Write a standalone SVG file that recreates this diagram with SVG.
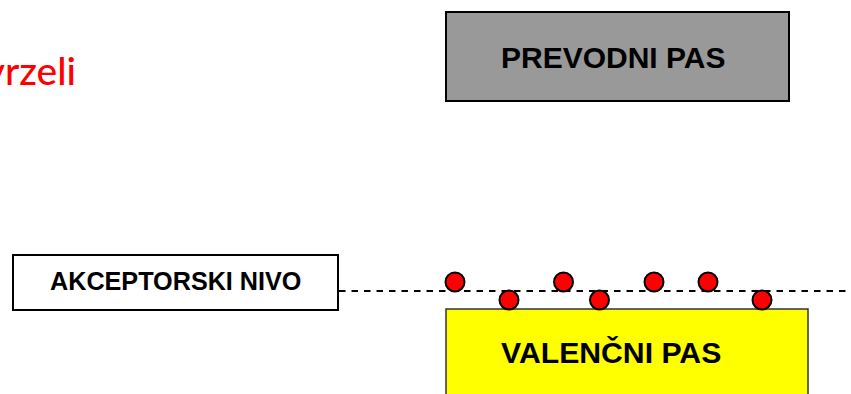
<svg xmlns="http://www.w3.org/2000/svg" width="851" height="394" viewBox="0 0 851 394">
<style>
.lbl{font-family:"Liberation Sans",Arial,sans-serif;font-weight:bold;fill:#000}
.e{fill:#ff0000;stroke:#000;stroke-width:2}
</style>
<rect width="851" height="394" fill="#fff"/>
<text x="76" y="85" text-anchor="end" font-family="Lato,'Open Sans',sans-serif" font-size="39" font-weight="500" fill="#ff0000">vrzeli</text>
<g id="connectors">
<line x1="339" y1="291" x2="851" y2="291" stroke="#000" stroke-width="2" stroke-dasharray="6.5 6"/>
</g>
<g id="prevodni">
<rect x="446" y="12" width="343" height="89" fill="#999999" stroke="#000" stroke-width="2"/>
<text class="lbl" x="501" y="68" font-size="30">PREVODNI PAS</text>
</g>
<g id="akceptorski">
<rect x="13" y="255" width="325" height="55" fill="#fff" stroke="#000" stroke-width="2"/>
<text class="lbl" x="50" y="290" font-size="25.2">AKCEPTORSKI NIVO</text>
</g>
<g id="valencni">
<rect x="446" y="309" width="362" height="100" fill="#ffff00" stroke="#333" stroke-width="1.5"/>
<text class="lbl" x="501" y="363" font-size="30.2">VALENČNI PAS</text>
</g>
<g id="electrons">
<circle class="e" cx="455" cy="282" r="9.5"/>
<circle class="e" cx="563.5" cy="282" r="9.5"/>
<circle class="e" cx="654" cy="282" r="9.5"/>
<circle class="e" cx="708" cy="282" r="9.5"/>
<circle class="e" cx="509" cy="300" r="9.5"/>
<circle class="e" cx="599.5" cy="300" r="9.5"/>
<circle class="e" cx="762" cy="300" r="9.5"/>
</g>
</svg>
